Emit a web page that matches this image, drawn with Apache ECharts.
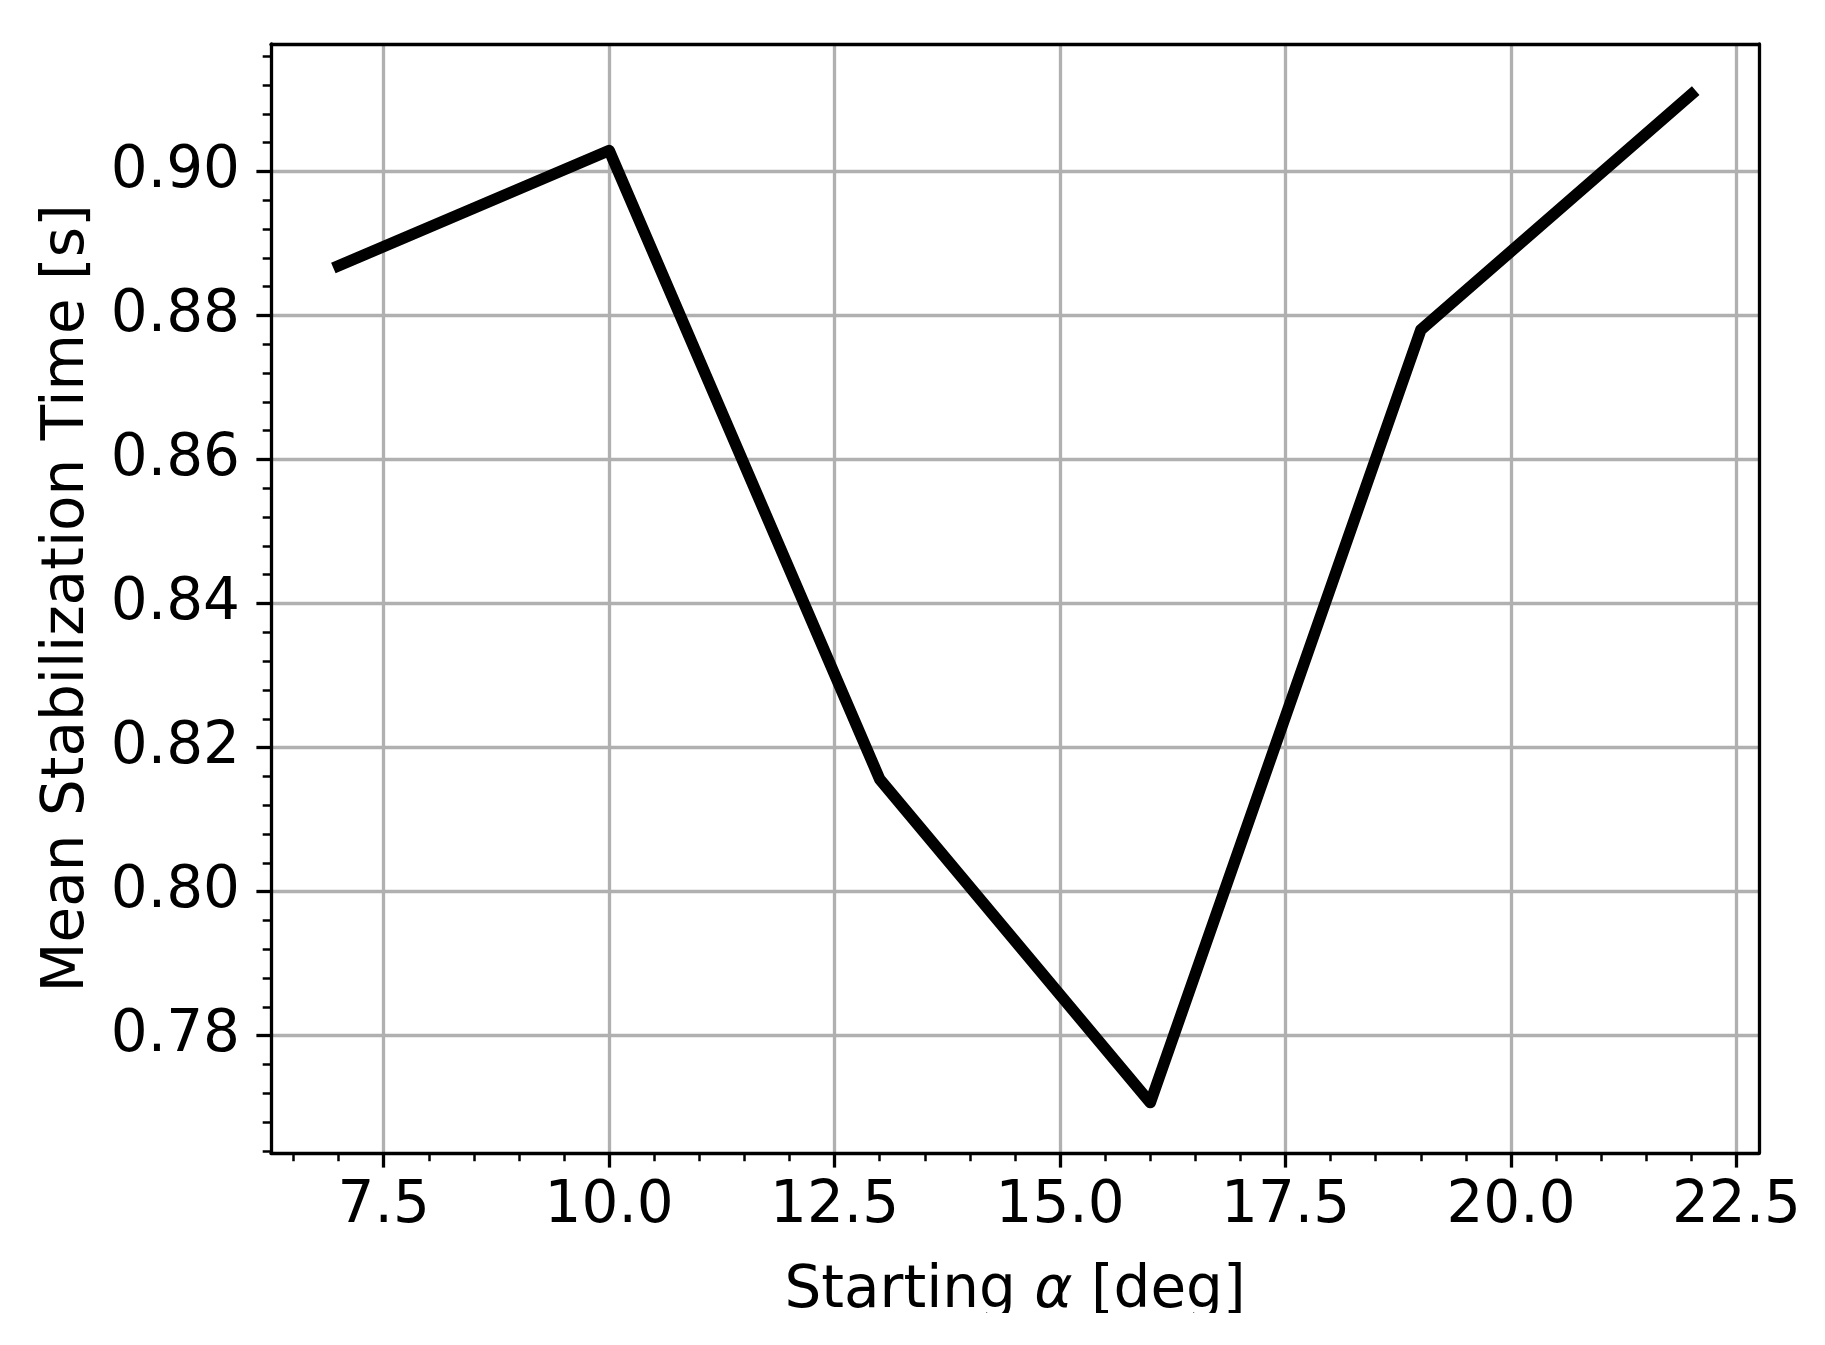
<!DOCTYPE html>
<html>
<head>
<meta charset="utf-8">
<script src="https://cdn.jsdelivr.net/npm/echarts@6/dist/echarts.min.js"></script>
<style>
html,body{margin:0;padding:0;background:#fff;}
#chart{width:1825px;height:1345px;}
</style>
</head>
<body>
<div id="chart"></div>
<script>
// Data
const startingAlpha = [7, 10, 13, 16, 19, 22];
const meanStabTime = [0.8869, 0.9029, 0.8156, 0.7707, 0.8780, 0.9107];
const xTickValues = [7.5, 10.0, 12.5, 15.0, 17.5, 20.0, 22.5];
const yTickValues = [0.78, 0.80, 0.82, 0.84, 0.86, 0.88, 0.90];
const xTitle = 'Starting {i|α} [deg]';
const yTitle = 'Mean Stabilization Time [s]';

const FONT = 'DejaVu Sans';
const FS = 58;
const xMin = 6.25, xMax = 22.75, yMin = 0.7637, yMax = 0.9177;

const chart = echarts.init(document.getElementById('chart'), null, {renderer: 'canvas'});
const spine = {show: true, onZero: false, lineStyle: {color: '#000', width: 3.3}};
const grayGrid = {show: true, lineStyle: {color: '#b0b0b0', width: 3.3}};

chart.setOption({
  animation: false,
  backgroundColor: '#fff',
  grid: {left: 271, top: 44, right: 66, bottom: 192, containLabel: false},
  xAxis: [{
    type: 'value', min: xMin, max: xMax, splitNumber: 3,
    name: xTitle, nameLocation: 'middle', nameGap: 110,
    nameTextStyle: {fontFamily: FONT, fontSize: FS, color: '#000',
      rich: {i: {fontFamily: FONT, fontSize: FS, fontStyle: 'italic', color: '#000'}}},
    axisLine: spine,
    axisTick: {show: true, inside: false, length: 14.6, customValues: xTickValues, lineStyle: {color: '#000', width: 3.3}},
    minorTick: {show: true, splitNumber: 10, length: 8.3, lineStyle: {color: '#000', width: 2.5}},
    axisLabel: {show: true, customValues: xTickValues, margin: 25, fontFamily: FONT, fontSize: FS, color: '#000',
      formatter: v => v.toFixed(1)},
    splitLine: grayGrid
  }, {
    type: 'value', position: 'top', min: xMin, max: xMax,
    axisLine: spine, axisTick: {show: false}, axisLabel: {show: false}, splitLine: {show: false}
  }],
  yAxis: [{
    type: 'value', min: yMin, max: yMax, splitNumber: 7,
    name: yTitle, nameLocation: 'middle', nameGap: 174,
    nameTextStyle: {fontFamily: FONT, fontSize: FS, color: '#000'},
    axisLine: spine,
    axisTick: {show: true, inside: false, length: 14.6, customValues: yTickValues, lineStyle: {color: '#000', width: 3.3}},
    minorTick: {show: true, splitNumber: 5, length: 8.3, lineStyle: {color: '#000', width: 2.5}},
    axisLabel: {show: true, customValues: yTickValues, margin: 31, fontFamily: FONT, fontSize: FS, color: '#000',
      formatter: v => v.toFixed(2)},
    splitLine: grayGrid
  }, {
    type: 'value', position: 'right', min: yMin, max: yMax,
    axisLine: spine, axisTick: {show: false}, axisLabel: {show: false}, splitLine: {show: false}
  }],
  graphic: [{
    type: 'rect', left: 0, top: 1313, z: 100, silent: true,
    shape: {width: 1825, height: 32}, style: {fill: '#fff'}
  }],
  series: [{
    type: 'line',
    xAxisIndex: 0, yAxisIndex: 0,
    data: startingAlpha.map((x, i) => [x, meanStabTime[i]]),
    showSymbol: false,
    lineStyle: {color: '#000', width: 11.5, cap: 'square', join: 'round'},
    z: 5
  }]
});
</script>
</body>
</html>
